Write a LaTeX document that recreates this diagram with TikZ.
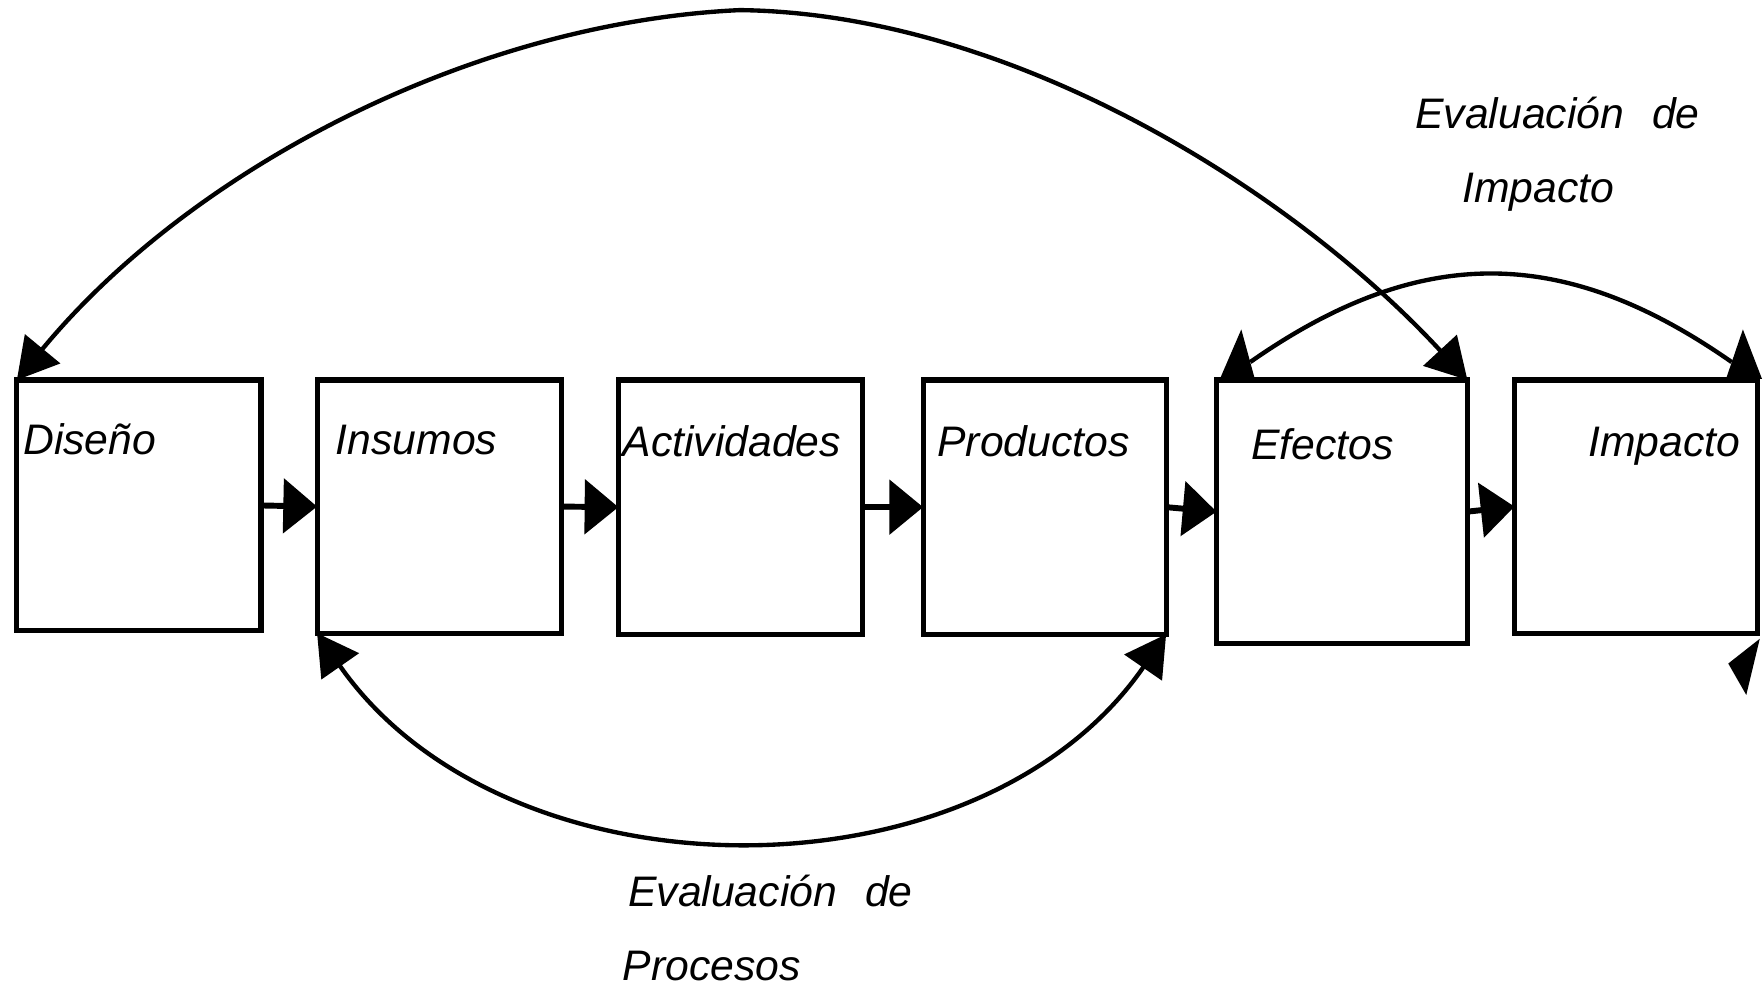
\documentclass[tikz,border=0pt]{standalone}
\usepackage{fontspec}
\setmainfont{Liberation Sans}
\usepackage{tikz}
\usetikzlibrary{arrows.meta}

\tikzset{
	box/.style={draw, line width=1.3pt, inner sep=0pt, outer sep=0pt, anchor=north west},
	lbl/.style={anchor=base west, inner sep=0pt, font=\fontsize{10.8}{13}\selectfont\itshape},
	flow/.style={line width=1.5pt, -{Triangle[length=0.3cm,width=0.48cm]}},
	evalarc/.style={line width=1.1pt, {Triangle[length=0.36cm,width=0.4cm]}-{Triangle[length=0.36cm,width=0.4cm]}},
}

\begin{document}
\begin{tikzpicture}[x=0.01cm, y=-0.01cm]
	
	\useasboundingbox (0,0) rectangle (1568,877);
	
	\node[box, minimum width=2.17cm, minimum height=2.23cm] (dis) at (15,338) {};
	\node[box, minimum width=2.17cm, minimum height=2.25cm] (ins) at (282,338) {};
	\node[box, minimum width=2.17cm, minimum height=2.26cm] (act) at (550,338) {};
	\node[box, minimum width=2.16cm, minimum height=2.26cm] (pro) at (821,338) {};
	\node[box, minimum width=2.23cm, minimum height=2.34cm] (efe) at (1082,338) {};
	\node[box, minimum width=2.16cm, minimum height=2.25cm] (imp) at (1347,338) {};
	
	\node[lbl] (tdis) at ([shift={(5,66)}]dis.north west) {Diseño};
	\node[lbl] (tins) at ([shift={(16,66)}]ins.north west) {Insumos};
	\node[lbl] (tact) at ([shift={(3,68)}]act.north west) {Actividades};
	\node[lbl] (tpro) at ([shift={(12,68)}]pro.north west) {Productos};
	\node[lbl] (tefe) at ([shift={(30,71)}]efe.north west) {Efectos};
	\node[lbl] (timp) at ([shift={(65,68)}]imp.north west) {Impacto};
	
	\draw[flow] (dis.east) -- (ins.west);
	\draw[flow] (ins.east) -- (act.west);
	\draw[flow] (act.east) -- (pro.west);
	\draw[flow] (pro.east) -- (efe.west);
	\draw[flow] (efe.east) -- (imp.west);
	
	\coordinate (top) at (658,9);
	\draw[evalarc] (dis.north west) .. controls (170,150) and (420,20) .. (top)
		.. controls (900,12) and (1150,170) .. (efe.north east);
	\draw[evalarc] (ins.south west) .. controls (450,804) and (870,806) .. (pro.south east);
	
	\draw[line width=1.1pt] ([shift={(30,-16)}]efe.north west) .. controls (1262,217) and (1390,217) .. ([shift={(-23,-16)}]imp.north east);
	\fill ([shift={(22,-45)}]efe.north west) -- ([shift={(3,-1)}]efe.north west) -- ([shift={(34,-1)}]efe.north west) -- cycle;
	\fill ([shift={(-13,-45)}]imp.north east) -- ([shift={(-28,-1)}]imp.north east) -- ([shift={(4,-1)}]imp.north east) -- cycle;
	%\draw (imp.south east) -- ++(0,60);
	\fill ([shift={(-10,55)}]imp.south east) -- ([shift={(-26,27)}]imp.south east) -- ([shift={(2,5)}]imp.south east) -- cycle;
	
	\node[lbl] (evi) at (1258,114) {Evaluación\hspace{0.25cm}de};
	\node[lbl] (evi2) at (1300,180) {Impacto};
	\node[lbl] (evp) at (558,806) {Evaluación\hspace{0.25cm}de};
	\node[lbl] (evp2) at (553,872) {Procesos};
	
\end{tikzpicture}
\end{document}
